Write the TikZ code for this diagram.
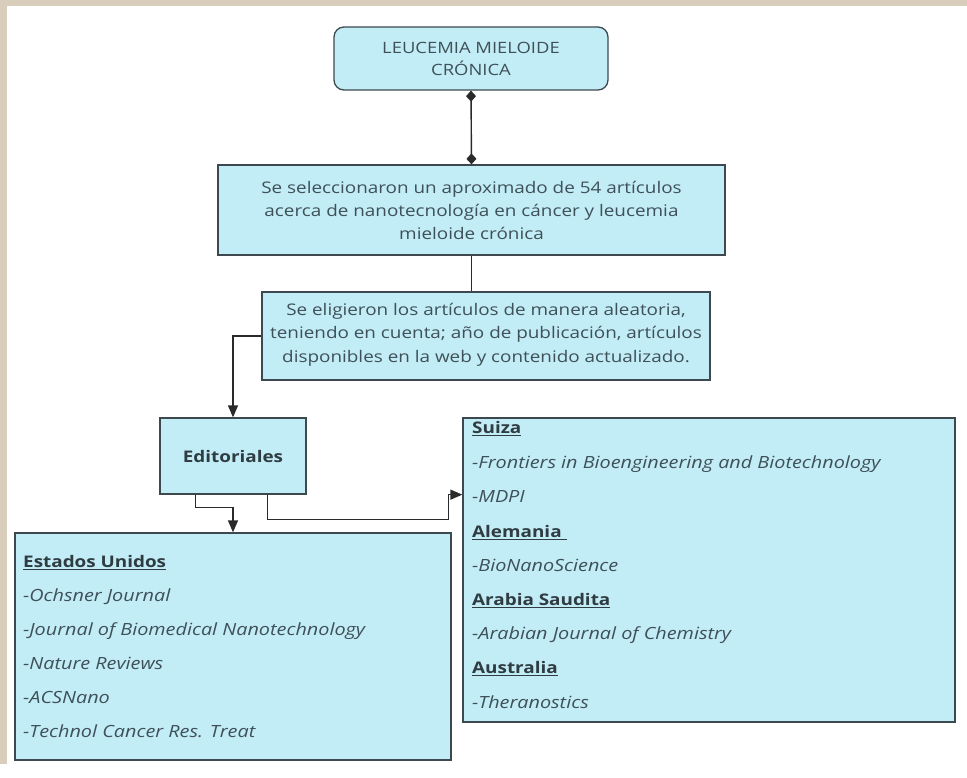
\documentclass[tikz,border=0pt]{standalone}
\usepackage{fontspec}
\setmainfont{Open Sans}[FakeStretch=1.18]
\usetikzlibrary{arrows.meta}
\definecolor{boxfill}{HTML}{C3EDF6}
\definecolor{boxline}{HTML}{3C4A50}
\definecolor{txt}{HTML}{3E5058}
\definecolor{hdrtxt}{HTML}{2F3C42}
\definecolor{beige}{HTML}{D9CDBB}
\definecolor{wire}{HTML}{2A2A2A}
\newcommand{\hdrline}[1]{\setbox0\hbox{#1}\rlap{\rule[-2.8pt]{\wd0}{1.1pt}}\box0}
\begin{document}
\begin{tikzpicture}[x=1pt,y=-1pt,
  box/.style={draw=boxline, fill=boxfill, line width=1.3pt, inner sep=0pt, text=txt, align=center,
    font=\fontsize{16}{23}\selectfont},
  conn/.style={draw=wire, line width=1.4pt, -{Triangle[length=12pt,width=10pt]}},
  plainwire/.style={draw=wire, line width=1.4pt},
  hdr/.style={anchor=base west, inner sep=0pt, text=hdrtxt, font=\fontsize{16}{18}\selectfont\bfseries},
  item/.style={anchor=base west, inner sep=0pt, text=txt, font=\fontsize{16.8}{18}\selectfont\itshape}]
\useasboundingbox (0,0) rectangle (967,778);
\fill[beige] (0,0) rectangle (967,6);
\fill[beige] (0,0) rectangle (7,764);

\node[box, rounded corners=10pt, minimum width=274pt, minimum height=63pt,
  font=\fontsize{15.6}{22}\selectfont] (top) at (471,58.5) {LEUCEMIA MIELOIDE\\CRÓNICA};
\node[box, minimum width=507pt, minimum height=90pt] (sel) at (471.5,210)
  {Se seleccionaron un aproximado de 54 artículos\\acerca de nanotecnología en cáncer y leucemia\\mieloide crónica};
\node[box, minimum width=448pt, minimum height=88pt, font=\fontsize{16}{23.5}\selectfont] (ale) at (486,336)
  {Se eligieron los artículos de manera aleatoria,\\teniendo en cuenta; año de publicación, artículos\\disponibles en la web y contenido actualizado.\\[-17pt]};
\node[box, minimum width=146pt, minimum height=76pt, font=\fontsize{16}{18}\selectfont\bfseries, text=hdrtxt] (edit) at (233,456) {Editoriales};
\node[box, minimum width=436pt, minimum height=227pt] (eu) at (233,646.5) {};
\node[box, minimum width=492pt, minimum height=304pt] (sw) at (709,570) {};

% United States list
\node[hdr] (eu0) at (23,567) {\hdrline{Estados Unidos}};
\node[item] (eu1) at (23,601) {-Ochsner Journal};
\node[item] (eu2) at (23,635) {-Journal of Biomedical Nanotechnology};
\node[item] (eu3) at (23,669) {-Nature Reviews};
\node[item] (eu4) at (23,703) {-ACSNano};
\node[item] (eu5) at (23,737) {-Technol Cancer Res. Treat};

% Other countries list
\node[hdr] (sw0) at (472,433) {\hdrline{Suiza}};
\node[item] (sw1) at (472,468) {-Frontiers in Bioengineering and Biotechnology};
\node[item] (sw2) at (472,502) {-MDPI};
\node[hdr] (sw3) at (472,537) {\hdrline{Alemania\ }};
\node[item] (sw4) at (472,571) {-BioNanoScience};
\node[hdr] (sw5) at (472,605) {\hdrline{Arabia Saudita}};
\node[item] (sw6) at (472,639) {-Arabian Journal of Chemistry};
\node[hdr] (sw7) at (472,673) {\hdrline{Australia}};
\node[item] (sw8) at (472,708) {-Theranostics};

% connectors
\draw[plainwire, {Diamond[length=11pt,width=10pt]}-{Diamond[length=11pt,width=10pt]}] (top.south) -- (sel.north);
\draw[plainwire] (sel.south) -- (sel.south |- ale.north);
\draw[conn] (ale.west) -| (edit.north);
\draw[conn] ([xshift=36pt]edit.south west) -- ++(0,13) -| (eu.north);
\draw[conn] ([xshift=108pt]edit.south west) -- ++(0,25) -- ++(181,0) -- ++(0,-25) -- (edit.south -| sw.west);
\end{tikzpicture}
\end{document}
